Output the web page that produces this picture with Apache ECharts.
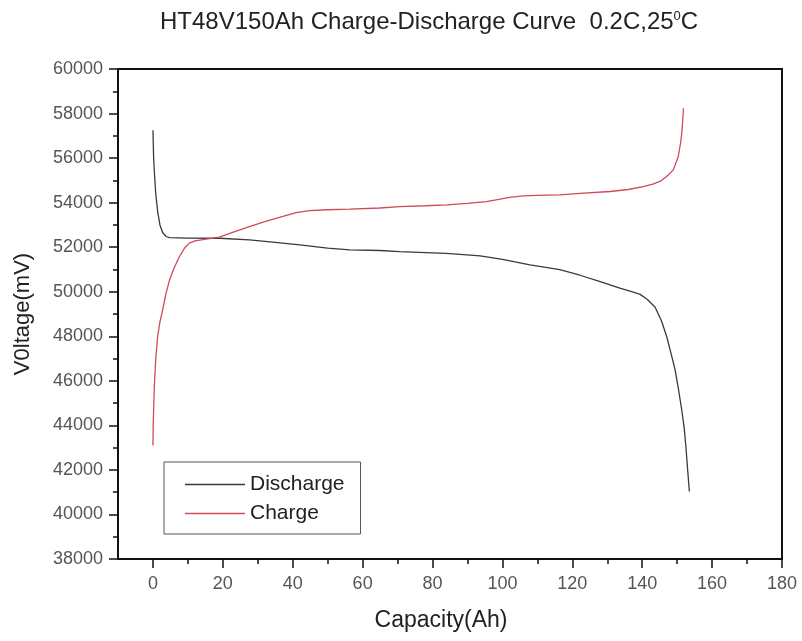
<!DOCTYPE html>
<html>
<head>
<meta charset="utf-8">
<script src="https://cdn.jsdelivr.net/npm/echarts@6/dist/echarts.min.js"></script>
<style>html,body{margin:0;padding:0;background:#fff}#c{width:802px;height:641px}</style>
</head>
<body>
<div id="c"></div>
<script>
// ---- data (Capacity Ah, Voltage mV) ----
const dischargeCap = [0, 0.2, 0.4, 0.8, 1.35, 2, 2.8, 3.8, 4.7, 10, 19, 27.6, 35, 42, 50, 56.3, 65, 70.6, 78, 84, 93.6, 100, 107.9, 116.4, 122.2, 128, 133.6, 137, 139.4, 141.5, 143.7, 145.5, 147, 148.3, 149.4, 150.4, 151.3, 152, 152.5, 153, 153.5];
const dischargeV = [57250, 56000, 55400, 54400, 53600, 53000, 52650, 52480, 52430, 52410, 52400, 52330, 52220, 52100, 51960, 51880, 51850, 51800, 51760, 51720, 51610, 51450, 51210, 50990, 50740, 50450, 50160, 50000, 49880, 49650, 49300, 48700, 47990, 47200, 46500, 45600, 44700, 43900, 43050, 42000, 41030];
const chargeCap = [0, 0.1, 0.25, 0.4, 0.8, 1.35, 2, 2.8, 3.7, 4.7, 6, 7.6, 9, 10.4, 12, 15.2, 19, 23, 27.6, 32, 37.2, 41, 44.8, 50, 56.3, 64.9, 70.6, 78, 84, 90, 95.4, 99, 102, 106, 110, 116.4, 122.2, 130.8, 136, 140.3, 143, 145.1, 147, 148.9, 150.3, 151, 151.3, 151.6, 151.8];
const chargeV = [43100, 44200, 45000, 45750, 47000, 48000, 48650, 49200, 49900, 50500, 51050, 51580, 51950, 52180, 52280, 52360, 52450, 52680, 52920, 53150, 53380, 53550, 53640, 53680, 53710, 53760, 53820, 53860, 53900, 53970, 54050, 54150, 54240, 54300, 54330, 54350, 54420, 54500, 54590, 54720, 54830, 54950, 55170, 55470, 56060, 56700, 57110, 57700, 58240];
const xMajorTicks = [0, 20, 40, 60, 80, 100, 120, 140, 160, 180];
const xMinorTicks = [10, 30, 50, 70, 90, 110, 130, 150, 170];
const seriesNames = ['Discharge', 'Charge'];

const zip = (a, b) => a.map((v, i) => [v, b[i]]);
const FONT = '"Liberation Sans", Arial, sans-serif';

const chart = echarts.init(document.getElementById('c'), null, {renderer: 'canvas'});
chart.setOption({
  animation: false,
  backgroundColor: '#ffffff',
  title: {
    text: 'HT48V150Ah Charge-Discharge Curve  0.2C,25{sup|0}C',
    left: 155,
    top: 5,
    textStyle: {
      fontFamily: FONT, fontSize: 24, fontWeight: 'normal', color: '#222',
      rich: { sup: { fontFamily: FONT, fontSize: 13, color: '#222', verticalAlign: 'top', padding: [0, 0, 12, 0] } }
    }
  },
  legend: {
    orient: 'vertical',
    left: 164, top: 462,
    padding: [12, 16, 10, 21],
    itemGap: 8,
    itemWidth: 60, itemHeight: 1.5,
    icon: 'rect',
    borderColor: '#555', borderWidth: 1,
    textStyle: { fontFamily: FONT, fontSize: 21, color: '#222' },
    data: seriesNames
  },
  grid: { left: 118, right: 20, top: 69, bottom: 82, show: true, borderColor: '#111', borderWidth: 2, backgroundColor: 'transparent' },
  xAxis: [{
    type: 'value', min: -10, max: 180,
    name: 'Capacity(Ah)', nameLocation: 'middle', nameGap: 50,
    nameTextStyle: { fontFamily: FONT, fontSize: 23, color: '#222', padding: [0, 18, 0, 0] },
    axisLine: { show: true, onZero: false, lineStyle: { color: '#111', width: 2 } },
    axisTick: { show: true, length: 9, customValues: xMajorTicks, lineStyle: { color: '#111', width: 1.5 } },
    axisLabel: { show: true, margin: 16, customValues: xMajorTicks, fontFamily: FONT, fontSize: 18, color: '#555' },
    splitLine: { show: false }
  }, {
    type: 'value', min: -10, max: 180, position: 'bottom',
    axisLine: { show: false, onZero: false },
    axisTick: { show: true, length: 5, customValues: xMinorTicks, lineStyle: { color: '#111', width: 1.5 } },
    axisLabel: { show: false },
    splitLine: { show: false }
  }],
  yAxis: {
    type: 'value', min: 38000, max: 60000, interval: 2000,
    name: 'V0ltage(mV)', nameLocation: 'middle', nameGap: 84,
    nameTextStyle: { fontFamily: FONT, fontSize: 22, color: '#222' },
    axisLine: { show: true, onZero: false, lineStyle: { color: '#111', width: 2 } },
    axisTick: { show: true, length: 9, lineStyle: { color: '#111', width: 1.5 } },
    minorTick: { show: true, splitNumber: 2, length: 5, lineStyle: { color: '#111', width: 1.5 } },
    axisLabel: { margin: 15, fontFamily: FONT, fontSize: 18, color: '#555', formatter: v => String(v) },
    splitLine: { show: false }
  },
  series: [{
    name: seriesNames[0], type: 'line', showSymbol: false,
    data: zip(dischargeCap, dischargeV),
    lineStyle: { color: '#3a3a3a', width: 1.3 }, itemStyle: { color: '#3a3a3a' }
  }, {
    name: seriesNames[1], type: 'line', showSymbol: false,
    data: zip(chargeCap, chargeV),
    lineStyle: { color: '#cf4a5a', width: 1.3 }, itemStyle: { color: '#cf4a5a' }
  }]
});
</script>
</body>
</html>
